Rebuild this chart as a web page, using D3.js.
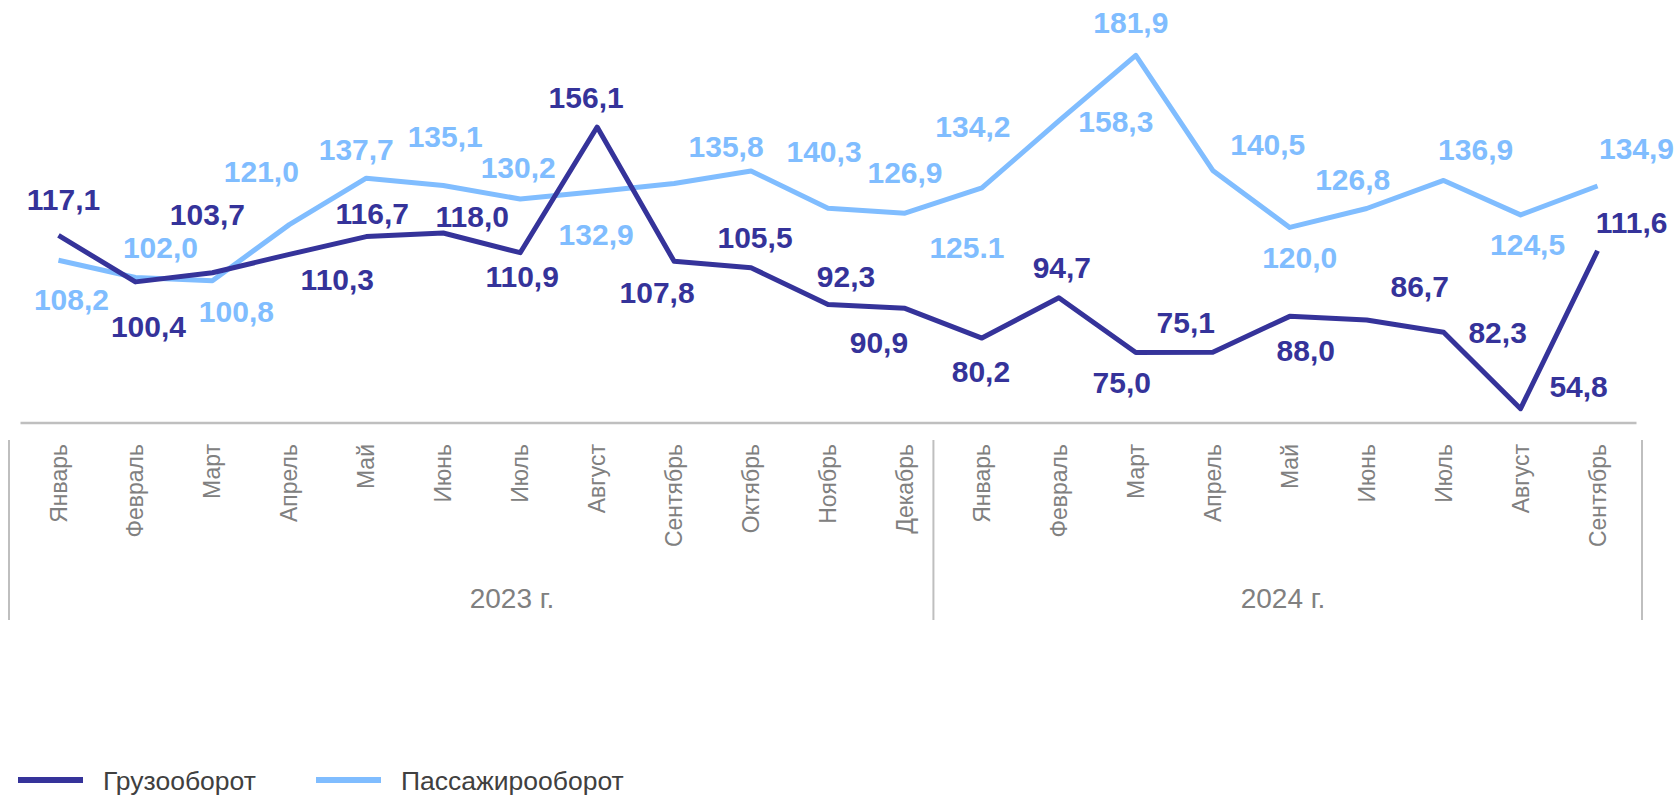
<!DOCTYPE html>
<html>
<head>
<meta charset="utf-8">
<script src="https://cdn.jsdelivr.net/npm/d3@7"></script>
<style>
  html, body { margin: 0; padding: 0; background: #fff; }
  svg { display: block; font-family: "Liberation Sans", Arial, sans-serif; }
</style>
</head>
<body>
<div id="chart"></div>
<script>
// months per year (category axis, two levels)
const months2023 = ["Январь", "Февраль", "Март", "Апрель", "Май", "Июнь", "Июль",
  "Август", "Сентябрь", "Октябрь", "Ноябрь", "Декабрь"];
const months2024 = ["Январь", "Февраль", "Март", "Апрель", "Май", "Июнь", "Июль",
  "Август", "Сентябрь"];
const years = ["2023 г.", "2024 г."];

const seriesNames = ["Грузооборот", "Пассажирооборот"];

// values
const cargo = [117.1, 100.4, 103.7, 110.3, 116.7, 118.0, 110.9, 156.1, 107.8, 105.5, 92.3, 90.9,
  80.2, 94.7, 75.0, 75.1, 88.0, 86.7, 82.3, 54.8, 111.6];
const passenger = [108.2, 102.0, 100.8, 121.0, 137.7, 135.1, 130.2, 132.9, 135.8, 140.3, 126.9, 125.1,
  134.2, 158.3, 181.9, 140.5, 120.0, 126.8, 136.9, 124.5, 134.9];

// label placement (dx, dy from point to label baseline) - hand placed in the original
const cargoLabelOffsets = [[5, -25], [13, 55], [-5, -48], [48, 36], [6, -13], [29, -6], [2, 34],
  [-11, -19], [-17, 42], [4, -20], [18, -17], [-26, 45], [-1, 44], [3, -20], [-14, 40], [-27, -19],
  [16, 45], [53, -23], [54, 11], [58, -12], [34, -18]];
const passLabelOffsets = [[13, 50], [25, -19], [24, 41], [-28, -43], [-10, -18], [2, -38], [-2, -21],
  [-1, 53], [52, -26], [73, -9], [77, -25], [62, 45], [-9, -51], [57, 11], [-5, -22], [55, -15],
  [10, 41], [-14, -18], [32, -20], [7, 40], [39, -27]];

const colors = { cargo: "#35339a", pass: "#80bdff" };

const width = 1680, height = 795;

const cats = [
  ...months2023.map((m, i) => ({ key: "2023-" + i, month: m, year: 0 })),
  ...months2024.map((m, i) => ({ key: "2024-" + i, month: m, year: 1 }))
];

const x = d3.scaleBand()
  .domain(cats.map(d => d.key))
  .range([20, 1636])
  .paddingInner(0)
  .paddingOuter(0);

const y = d3.scaleLinear()
  .domain([50, 200])
  .range([422, 5]);

const cx = i => x(cats[i].key) + x.bandwidth() / 2;

const fmt = (v, sep) => d3.format(".1f")(v).replace(".", sep);

const svg = d3.select("#chart").append("svg")
  .attr("width", width)
  .attr("height", height);

// category axis line
const axisY = 422.5;
svg.append("g")
  .attr("transform", `translate(0,${axisY})`)
  .call(d3.axisBottom(x).tickSize(0).tickFormat(""))
  .call(g => g.select(".domain").attr("stroke", "#bfbfbf").attr("stroke-width", 2.5));

// month labels, rotated
svg.append("g")
  .selectAll("text")
  .data(cats)
  .join("text")
  .attr("transform", (d, i) => `translate(${cx(i)},444) rotate(-90)`)
  .attr("dy", "0.35em")
  .attr("text-anchor", "end")
  .attr("font-size", 23)
  .attr("fill", "#808080")
  .text(d => d.month);

// year group separators
const [r0, r1] = x.range();
const splitX = x(cats[months2023.length].key);
const sepXs = [r0 - 11, splitX - 10, r1 + 6];
svg.append("g")
  .selectAll("line")
  .data(sepXs)
  .join("line")
  .attr("x1", d => d).attr("x2", d => d)
  .attr("y1", 440).attr("y2", 620)
  .attr("stroke", "#bfbfbf")
  .attr("stroke-width", 2);

// year labels
const yearX = [512, 1283];
svg.append("g")
  .selectAll("text")
  .data(years)
  .join("text")
  .attr("x", (d, i) => yearX[i])
  .attr("y", 608)
  .attr("text-anchor", "middle")
  .attr("font-size", 28)
  .attr("fill", "#808080")
  .text(d => d);

const line = d3.line()
  .x((d, i) => cx(i))
  .y(d => y(d));

svg.append("path")
  .datum(passenger)
  .attr("fill", "none")
  .attr("stroke", colors.pass)
  .attr("stroke-width", 5)
  .attr("stroke-linejoin", "round")
  .attr("d", line);

svg.append("path")
  .datum(cargo)
  .attr("fill", "none")
  .attr("stroke", colors.cargo)
  .attr("stroke-width", 5)
  .attr("stroke-linejoin", "round")
  .attr("d", line);

function drawLabels(values, offsets, color, sepFor) {
  svg.append("g")
    .selectAll("text")
    .data(values)
    .join("text")
    .attr("x", (d, i) => cx(i) + offsets[i][0])
    .attr("y", (d, i) => y(d) + offsets[i][1])
    .attr("text-anchor", "middle")
    .attr("font-size", 30)
    .attr("font-weight", "bold")
    .attr("fill", color)
    .text((d, i) => fmt(d, sepFor(i)));
}

// the December passenger label uses a point in the source
drawLabels(passenger, passLabelOffsets, colors.pass, i => (i === 11 ? "." : ","));
drawLabels(cargo, cargoLabelOffsets, colors.cargo, () => ",");

// legend
const legend = svg.append("g").attr("transform", "translate(18,780)");
const legendItems = [
  { name: seriesNames[0], color: colors.cargo, x: 0 },
  { name: seriesNames[1], color: colors.pass, x: 298 }
];
legend.selectAll("line")
  .data(legendItems)
  .join("line")
  .attr("x1", d => d.x).attr("x2", d => d.x + 65)
  .attr("y1", 0).attr("y2", 0)
  .attr("stroke", d => d.color)
  .attr("stroke-width", 6);
legend.selectAll("text")
  .data(legendItems)
  .join("text")
  .attr("x", d => d.x + 85)
  .attr("y", 10)
  .attr("font-size", 26.5)
  .attr("fill", "#404040")
  .text(d => d.name);
</script>
</body>
</html>
